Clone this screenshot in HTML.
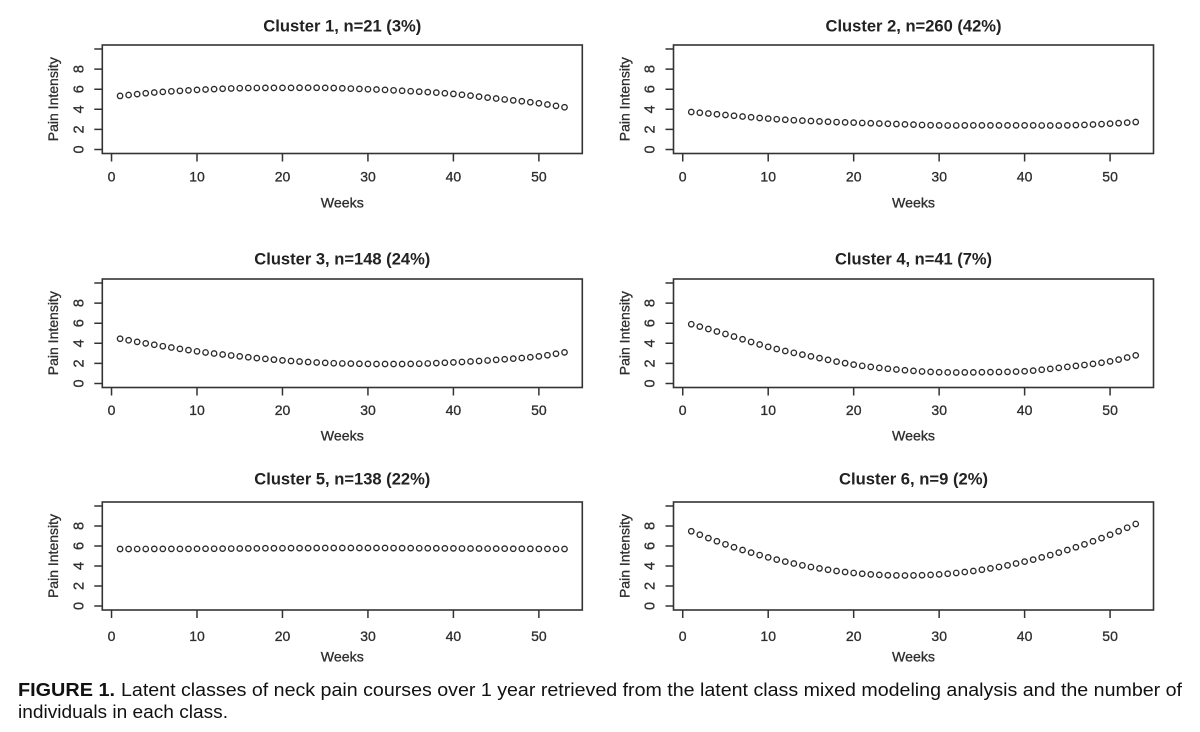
<!DOCTYPE html>
<html>
<head>
<meta charset="utf-8">
<style>
  html, body { margin: 0; padding: 0; background: #ffffff; }
  svg { display: block; }
  .ax { font-family: "Liberation Sans", Arial, sans-serif; fill: #2e2e2e; stroke: #2e2e2e; stroke-width: 0.3px; }
  .tt { font-family: "Liberation Sans", Arial, sans-serif; fill: #222; font-weight: bold; }
  .cap { font-family: "Liberation Sans", Arial, sans-serif; fill: #111; }
</style>
</head>
<body>
<svg id="s" xmlns="http://www.w3.org/2000/svg" width="1200" height="732" viewBox="0 0 1200 732">
  <rect x="0" y="0" width="1200" height="732" fill="#ffffff"/>

  <!-- Titles -->
  <text class="tt" x="342.3" y="26.7" font-size="16.5" text-anchor="middle" dominant-baseline="central" textLength="158" lengthAdjust="spacingAndGlyphs">Cluster 1, n=21 (3%)</text>
  <text class="tt" x="913.5" y="26.7" font-size="16.5" text-anchor="middle" dominant-baseline="central" textLength="176" lengthAdjust="spacingAndGlyphs">Cluster 2, n=260 (42%)</text>
  <text class="tt" x="342.3" y="259.5" font-size="16.5" text-anchor="middle" dominant-baseline="central" textLength="176" lengthAdjust="spacingAndGlyphs">Cluster 3, n=148 (24%)</text>
  <text class="tt" x="913.5" y="259.5" font-size="16.5" text-anchor="middle" dominant-baseline="central" textLength="157" lengthAdjust="spacingAndGlyphs">Cluster 4, n=41 (7%)</text>
  <text class="tt" x="342.3" y="479.3" font-size="16.5" text-anchor="middle" dominant-baseline="central" textLength="176" lengthAdjust="spacingAndGlyphs">Cluster 5, n=138 (22%)</text>
  <text class="tt" x="913.5" y="479.3" font-size="16.5" text-anchor="middle" dominant-baseline="central" textLength="149" lengthAdjust="spacingAndGlyphs">Cluster 6, n=9 (2%)</text>

  <!-- Y axis labels -->
  <text class="ax" font-size="14" text-anchor="middle" dominant-baseline="central" transform="rotate(-90 53 99.2)" x="53" y="99.2">Pain Intensity</text>
  <text class="ax" font-size="14" text-anchor="middle" dominant-baseline="central" transform="rotate(-90 624.5 99.2)" x="624.5" y="99.2">Pain Intensity</text>
  <text class="ax" font-size="14" text-anchor="middle" dominant-baseline="central" transform="rotate(-90 53 333.2)" x="53" y="333.2">Pain Intensity</text>
  <text class="ax" font-size="14" text-anchor="middle" dominant-baseline="central" transform="rotate(-90 624.5 333.2)" x="624.5" y="333.2">Pain Intensity</text>
  <text class="ax" font-size="14" text-anchor="middle" dominant-baseline="central" transform="rotate(-90 53 556)" x="53" y="556">Pain Intensity</text>
  <text class="ax" font-size="14" text-anchor="middle" dominant-baseline="central" transform="rotate(-90 624.5 556)" x="624.5" y="556">Pain Intensity</text>

  <!-- Y tick labels -->
  <g class="ax" font-size="14.5" text-anchor="middle" dominant-baseline="central">
    <text x="79.5" y="149.5" transform="rotate(-90 79.5 149.5)">0</text>
    <text x="79.5" y="129.4" transform="rotate(-90 79.5 129.4)">2</text>
    <text x="79.5" y="109.3" transform="rotate(-90 79.5 109.3)">4</text>
    <text x="79.5" y="89.2" transform="rotate(-90 79.5 89.2)">6</text>
    <text x="79.5" y="69.1" transform="rotate(-90 79.5 69.1)">8</text>

    <text x="650.5" y="149.5" transform="rotate(-90 650.5 149.5)">0</text>
    <text x="650.5" y="129.4" transform="rotate(-90 650.5 129.4)">2</text>
    <text x="650.5" y="109.3" transform="rotate(-90 650.5 109.3)">4</text>
    <text x="650.5" y="89.2" transform="rotate(-90 650.5 89.2)">6</text>
    <text x="650.5" y="69.1" transform="rotate(-90 650.5 69.1)">8</text>

    <text x="79.5" y="383.5" transform="rotate(-90 79.5 383.5)">0</text>
    <text x="79.5" y="363.4" transform="rotate(-90 79.5 363.4)">2</text>
    <text x="79.5" y="343.3" transform="rotate(-90 79.5 343.3)">4</text>
    <text x="79.5" y="323.2" transform="rotate(-90 79.5 323.2)">6</text>
    <text x="79.5" y="303.1" transform="rotate(-90 79.5 303.1)">8</text>

    <text x="650.5" y="383.5" transform="rotate(-90 650.5 383.5)">0</text>
    <text x="650.5" y="363.4" transform="rotate(-90 650.5 363.4)">2</text>
    <text x="650.5" y="343.3" transform="rotate(-90 650.5 343.3)">4</text>
    <text x="650.5" y="323.2" transform="rotate(-90 650.5 323.2)">6</text>
    <text x="650.5" y="303.1" transform="rotate(-90 650.5 303.1)">8</text>

    <text x="79.5" y="606" transform="rotate(-90 79.5 606)">0</text>
    <text x="79.5" y="586" transform="rotate(-90 79.5 586)">2</text>
    <text x="79.5" y="566" transform="rotate(-90 79.5 566)">4</text>
    <text x="79.5" y="546" transform="rotate(-90 79.5 546)">6</text>
    <text x="79.5" y="526" transform="rotate(-90 79.5 526)">8</text>

    <text x="650.5" y="606" transform="rotate(-90 650.5 606)">0</text>
    <text x="650.5" y="586" transform="rotate(-90 650.5 586)">2</text>
    <text x="650.5" y="566" transform="rotate(-90 650.5 566)">4</text>
    <text x="650.5" y="546" transform="rotate(-90 650.5 546)">6</text>
    <text x="650.5" y="526" transform="rotate(-90 650.5 526)">8</text>
  </g>

  <!-- X tick labels -->
  <g class="ax" font-size="14" text-anchor="middle" dominant-baseline="central">
    <text x="111.5" y="176.7">0</text><text x="197.0" y="176.7">10</text><text x="282.5" y="176.7">20</text>
    <text x="368.0" y="176.7">30</text><text x="453.4" y="176.7">40</text><text x="538.9" y="176.7">50</text>
    <text x="682.7" y="176.7">0</text><text x="768.2" y="176.7">10</text><text x="853.7" y="176.7">20</text>
    <text x="939.2" y="176.7">30</text><text x="1024.6" y="176.7">40</text><text x="1110.1" y="176.7">50</text>

    <text x="111.5" y="410">0</text><text x="197.0" y="410">10</text><text x="282.5" y="410">20</text>
    <text x="368.0" y="410">30</text><text x="453.4" y="410">40</text><text x="538.9" y="410">50</text>
    <text x="682.7" y="410">0</text><text x="768.2" y="410">10</text><text x="853.7" y="410">20</text>
    <text x="939.2" y="410">30</text><text x="1024.6" y="410">40</text><text x="1110.1" y="410">50</text>

    <text x="111.5" y="636">0</text><text x="197.0" y="636">10</text><text x="282.5" y="636">20</text>
    <text x="368.0" y="636">30</text><text x="453.4" y="636">40</text><text x="538.9" y="636">50</text>
    <text x="682.7" y="636">0</text><text x="768.2" y="636">10</text><text x="853.7" y="636">20</text>
    <text x="939.2" y="636">30</text><text x="1024.6" y="636">40</text><text x="1110.1" y="636">50</text>
  </g>

  <!-- Weeks labels -->
  <g class="ax" font-size="14" text-anchor="middle" dominant-baseline="central">
    <text x="342.3" y="202.3" textLength="43" lengthAdjust="spacingAndGlyphs">Weeks</text>
    <text x="913.5" y="202.3" textLength="43" lengthAdjust="spacingAndGlyphs">Weeks</text>
    <text x="342.3" y="435.5" textLength="43" lengthAdjust="spacingAndGlyphs">Weeks</text>
    <text x="913.5" y="435.5" textLength="43" lengthAdjust="spacingAndGlyphs">Weeks</text>
    <text x="342.3" y="656.7" textLength="43" lengthAdjust="spacingAndGlyphs">Weeks</text>
    <text x="913.5" y="656.7" textLength="43" lengthAdjust="spacingAndGlyphs">Weeks</text>
  </g>

  <!-- Caption -->
  <text class="cap" x="18" y="696" font-size="18" font-weight="bold" textLength="97" lengthAdjust="spacingAndGlyphs">FIGURE 1.</text>
  <text class="cap" x="121" y="696" font-size="18" textLength="1061" lengthAdjust="spacingAndGlyphs">Latent classes of neck pain courses over 1 year retrieved from the latent class mixed modeling analysis and the number of</text>
  <text class="cap" x="18" y="718" font-size="18" textLength="210" lengthAdjust="spacingAndGlyphs">individuals in each class.</text>

  <g id="plots"></g>
</svg>

<script>
(function(){
  var NS = "http://www.w3.org/2000/svg";
  var g = document.getElementById("plots");
  function el(name, attrs){
    var e = document.createElementNS(NS, name);
    for (var k in attrs) e.setAttribute(k, attrs[k]);
    g.appendChild(e);
    return e;
  }
  function interp(pts, x){
    var n = pts.length, i = 0;
    if (x <= pts[0][0]) return pts[0][1];
    if (x >= pts[n-1][0]) return pts[n-1][1];
    while (i < n-2 && x > pts[i+1][0]) i++;
    function tan(j){
      if (j === 0) return (pts[1][1]-pts[0][1])/(pts[1][0]-pts[0][0]);
      if (j === n-1) return (pts[n-1][1]-pts[n-2][1])/(pts[n-1][0]-pts[n-2][0]);
      return (pts[j+1][1]-pts[j-1][1])/(pts[j+1][0]-pts[j-1][0]);
    }
    var x0 = pts[i][0], x1 = pts[i+1][0], y0 = pts[i][1], y1 = pts[i+1][1];
    var h = x1-x0, t = (x-x0)/h;
    var m0 = tan(i)*h, m1 = tan(i+1)*h;
    var t2 = t*t, t3 = t2*t;
    return (2*t3-3*t2+1)*y0 + (t3-2*t2+t)*m0 + (-2*t3+3*t2)*y1 + (t3-t2)*m1;
  }
  var data = [
    [[1,5.33],[5,5.67],[10,5.93],[15,6.1],[20,6.13],[25,6.13],[30,6.0],[35,5.8],[40,5.53],[45,5.07],[50,4.6],[53,4.2]],
    [[1,3.73],[5,3.43],[10,3.07],[15,2.83],[20,2.67],[25,2.53],[30,2.4],[35,2.4],[40,2.4],[45,2.4],[50,2.57],[53,2.73]],
    [[1,4.45],[5,3.85],[10,3.2],[15,2.7],[20,2.3],[25,2.05],[30,1.95],[35,1.95],[40,2.1],[45,2.35],[50,2.7],[53,3.1]],
    [[1,5.9],[5,4.93],[10,3.64],[15,2.7],[20,1.88],[25,1.39],[30,1.12],[35,1.12],[40,1.22],[45,1.65],[50,2.2],[53,2.8]],
    [[1,5.7],[10,5.72],[20,5.78],[30,5.8],[40,5.76],[53,5.7]],
    null
  ];
  function f6(w){ return 3.05 + 0.00707*(w-26)*(w-26); }
  var rows = [
    {top:45, bot:153.5},
    {top:279, bot:387.5},
    {top:502, bot:610}
  ];
  var cols = [102.3, 673.5];
  var W = 480;
  for (var p = 0; p < 6; p++){
    var r = rows[Math.floor(p/2)], L = cols[p%2];
    var H = r.bot - r.top;
    var sx = W/56.16, sy = H/10.8;
    var X = function(v){ return L + (v+1.08)*sx; };
    var Y = function(v){ return r.bot - (v+0.4)*sy; };
    var d = "";
    for (var v = 0; v <= 50; v += 10){ var xx = X(v); d += "M"+xx.toFixed(2)+" "+r.bot+"V"+(r.bot+8); }
    for (var u = 0; u <= 10; u += 2){ var yy = Y(u); d += "M"+L+" "+yy.toFixed(2)+"H"+(L-8); }
    el("path", {d:d, stroke:"#333", "stroke-width":"1.5", fill:"none"});
    el("rect", {x:L, y:r.top, width:W, height:H, fill:"none", stroke:"#333", "stroke-width":"1.6"});
    for (var w = 1; w <= 53; w++){
      var val = (p === 5) ? f6(w) : interp(data[p], w);
      el("circle", {cx:X(w).toFixed(2), cy:Y(val).toFixed(2), r:"2.7", fill:"none", stroke:"#2a2a2a", "stroke-width":"1.35"});
    }
  }
})();
</script>
</body>
</html>
